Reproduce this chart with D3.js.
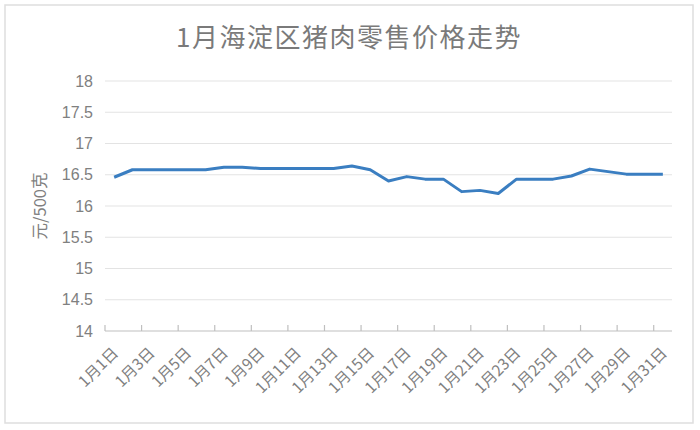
<!DOCTYPE html>
<html><head><meta charset="utf-8">
<script src="https://cdn.jsdelivr.net/npm/d3@7/dist/d3.min.js"></script>
<style>body{margin:0;background:#fff;} svg{display:block;}</style>
</head><body>
<svg id="c" width="700" height="430"></svg>
<script>
const title = "1月海淀区猪肉零售价格走势";
const yTitle = "元/500克";
const days = d3.range(1, 32).map(d => "1月" + d + "日");
const prices = [16.46,16.58,16.58,16.58,16.58,16.58,16.62,16.62,16.60,16.60,16.60,16.60,16.60,16.64,16.58,
                16.40,16.47,16.43,16.43,16.23,16.25,16.20,16.43,16.43,16.43,16.48,16.59,16.55,16.51,16.51,16.51];
const yTicks = [14,14.5,15,15.5,16,16.5,17,17.5,18];

const svg = d3.select("#c");
const L = 105, R = 672, T = 81, B = 331;
const gray = "#808080";

svg.append("rect").attr("x",5).attr("y",5).attr("width",688).attr("height",418)
  .attr("fill","#fff").attr("stroke","#dedede").attr("stroke-width",1.5);

svg.append("text").attr("x",349).attr("y",47).attr("text-anchor","middle")
  .attr("font-family","'Noto Sans CJK SC', sans-serif").attr("font-size",26)
  .attr("letter-spacing","1.5px").attr("fill","#7a7a7a").text(title);

const x = d3.scaleBand().domain(days).range([L, R]).padding(0);
const y = d3.scaleLinear().domain([14,18]).range([B, T]);

// gridlines
svg.append("g").selectAll("line").data(yTicks.filter(t=>t>14)).join("line")
  .attr("x1",L).attr("x2",R).attr("y1",d=>y(d)).attr("y2",d=>y(d))
  .attr("stroke","#e3e3e3").attr("stroke-width",1);

// y axis labels
const yAxis = d3.axisLeft(y).tickValues(yTicks).tickSize(0).tickPadding(12).tickFormat(d3.format(""));
const gy = svg.append("g").attr("transform",`translate(${L},0)`).call(yAxis);
gy.select(".domain").remove();
gy.selectAll("text").attr("font-family","'Liberation Sans', Arial, sans-serif").attr("font-size",16).attr("fill",gray);

// x axis
svg.append("line").attr("x1",L).attr("x2",R).attr("y1",B).attr("y2",B).attr("stroke","#bfbfbf").attr("stroke-width",1.2);
const tickIdx = d3.range(0, 31, 2);
svg.append("g").selectAll("line").data(tickIdx).join("line")
  .attr("x1",i=>x(days[i])).attr("x2",i=>x(days[i])).attr("y1",B).attr("y2",B-6)
  .attr("stroke","#bfbfbf").attr("stroke-width",1.2);

svg.append("g").selectAll("text").data(days.filter((d,i)=>i%2===0)).join("text")
  .attr("transform",d=>`translate(${x(d)+x.bandwidth()/2+5},${B+23}) rotate(-45)`)
  .attr("text-anchor","end")
  .attr("font-family","'Noto Sans CJK SC', sans-serif").attr("font-size",15.5)
  .attr("fill",gray).text(d=>d);

svg.append("text").attr("transform",`translate(46,206) rotate(-90)`).attr("text-anchor","middle")
  .attr("font-family","'Noto Sans CJK SC', sans-serif").attr("font-size",16.5).attr("fill",gray).text(yTitle);

const line = d3.line().x((d,i)=>x(days[i])+x.bandwidth()/2).y(d=>y(d));
svg.append("path").datum(prices).attr("d",line).attr("fill","none")
  .attr("stroke","#3a7ec1").attr("stroke-width",3).attr("stroke-linejoin","round");
</script>
</body></html>
